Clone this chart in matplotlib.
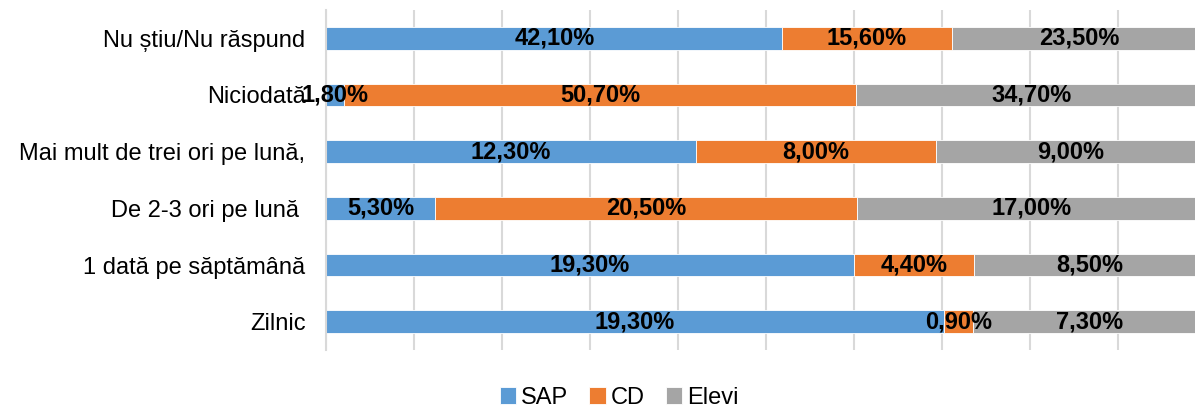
import numpy as np
import matplotlib.pyplot as plt

plt.rcParams['font.family'] = ['Liberation Sans', 'DejaVu Sans']

# categorii (de jos in sus)
categorii = ['Zilnic', '1 dată pe săptămână', 'De 2-3 ori pe lună ',
             'Mai mult de trei ori pe lună,', 'Niciodată', 'Nu știu/Nu răspund']
sap = [19.3, 19.3, 5.3, 12.3, 1.8, 42.1]
cd = [0.9, 4.4, 20.5, 8.0, 50.7, 15.6]
elevi = [7.3, 8.5, 17.0, 9.0, 34.7, 23.5]

serii = ['SAP', 'CD', 'Elevi']
culori = ['#5B9BD5', '#ED7D31', '#A5A5A5']

date = np.array([sap, cd, elevi])
total = date.sum(axis=0)
frac = date / total

fig = plt.figure(figsize=(11.95, 4.09), dpi=100)
# axa iese putin peste marginea din dreapta, ca in original
ax = fig.add_axes([0.273, 0.144, 0.7364, 0.832])

y = np.arange(len(categorii))
stanga = np.zeros(len(categorii))
for i in range(3):
    ax.barh(y, frac[i], left=stanga, height=0.4, color=culori[i],
            edgecolor='white', linewidth=0.6, label=serii[i], zorder=2)
    for j in range(len(categorii)):
        ax.text(stanga[j] + frac[i][j] / 2, y[j],
                ('%.2f%%' % date[i][j]).replace('.', ','),
                ha='center', va='center', fontsize=17, fontweight='bold',
                color='black', zorder=3)
    stanga = stanga + frac[i]

ax.set_xlim(0, 1)
ax.set_ylim(-0.5, len(categorii) - 0.5)
ax.set_xticks(np.linspace(0, 1, 11))
ax.set_xticklabels([])
ax.tick_params(axis='x', length=0)
ax.tick_params(axis='y', length=0, labelsize=17, pad=15)
ax.set_yticks(y)
ax.set_yticklabels(categorii)
ax.grid(True, axis='x', color='#D9D9D9', linewidth=1.5, zorder=0)
for s in ['top', 'right', 'bottom']:
    ax.spines[s].set_visible(False)
ax.spines['left'].set_color('#D9D9D9')
ax.spines['left'].set_linewidth(1.5)

fig.legend(loc='center', bbox_to_anchor=(0.518, 0.028), ncol=3, frameon=False,
           fontsize=17, handlelength=0.7, handleheight=0.7, handletextpad=0.2,
           columnspacing=0.9)

plt.savefig('out.png', dpi=100)
